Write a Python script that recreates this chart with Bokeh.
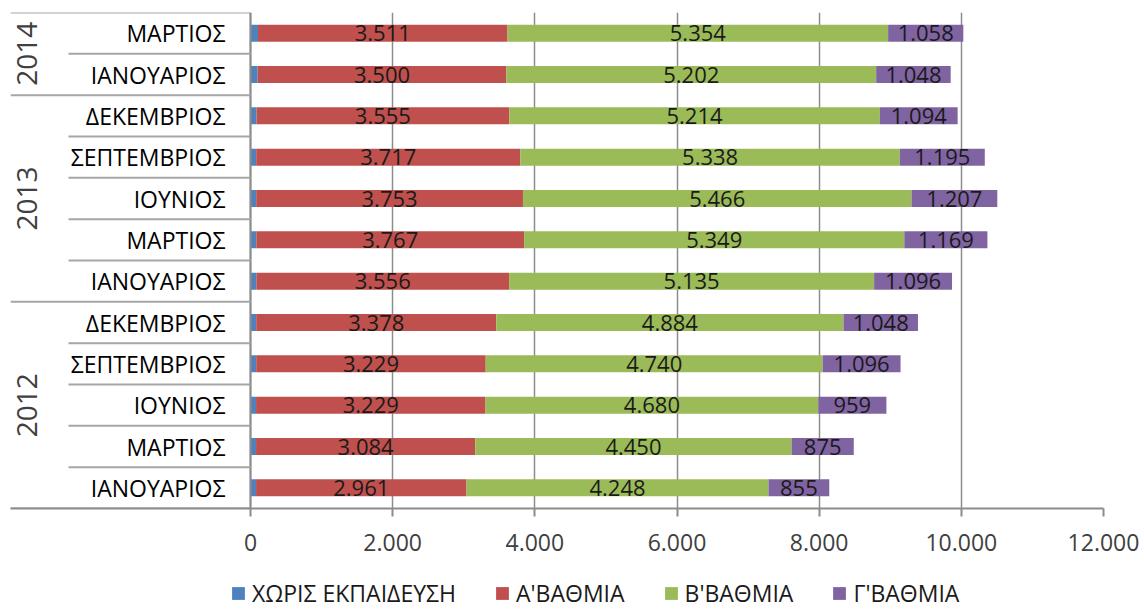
import numpy as np
from bokeh.plotting import figure
from bokeh.layouts import column
from bokeh.models import Range1d, ColumnDataSource, FixedTicker, CustomJSTickFormatter, Legend, LegendItem
from bokeh.core.properties import value
from bokeh.embed import file_html
from bokeh.resources import INLINE

# ---------------- data (bottom row first) ----------------
years = ["2012", "2012", "2012", "2012", "2012",
         "2013", "2013", "2013", "2013", "2013",
         "2014", "2014"]
months = ["ΙΑΝΟΥΑΡΙΟΣ", "ΜΑΡΤΙΟΣ", "ΙΟΥΝΙΟΣ", "ΣΕΠΤΕΜΒΡΙΟΣ", "ΔΕΚΕΜΒΡΙΟΣ",
          "ΙΑΝΟΥΑΡΙΟΣ", "ΜΑΡΤΙΟΣ", "ΙΟΥΝΙΟΣ", "ΣΕΠΤΕΜΒΡΙΟΣ", "ΔΕΚΕΜΒΡΙΟΣ",
          "ΙΑΝΟΥΑΡΙΟΣ", "ΜΑΡΤΙΟΣ"]
no_edu = [78, 78, 78, 80, 80, 82, 82, 80, 80, 85, 100, 105]
a_level = [2961, 3084, 3229, 3229, 3378, 3556, 3767, 3753, 3717, 3555, 3500, 3511]
b_level = [4248, 4450, 4680, 4740, 4884, 5135, 5349, 5466, 5338, 5214, 5202, 5354]
c_level = [855, 875, 959, 1096, 1048, 1096, 1169, 1207, 1195, 1094, 1048, 1058]
series_names = ["ΧΩΡΙΣ ΕΚΠΑΙΔΕΥΣΗ", "Α'ΒΑΘΜΙΑ", "Β'ΒΑΘΜΙΑ", "Γ'ΒΑΘΜΙΑ"]
x_ticks = [0, 2000, 4000, 6000, 8000, 10000, 12000]

# ---------------- style ----------------
colors = ["#4F81BD", "#C0504D", "#9BBB59", "#8064A2"]
FONT = "Open Sans"
GRID = "#8C8C8C"
SEP = "#A6A6A6"
PX = 12000 / 853.0            # data units per screen pixel
x_start = -240 * PX           # left edge of label table
month_col = -182 * PX         # left edge of month column
month_x = -25 * PX            # right edge of month labels
year_x = -224 * PX            # centre of year labels
W = 1144


def fmt(v):
    return "{:,}".format(int(v)).replace(",", ".")


n = len(months)
ys = np.arange(n)
series = [no_edu, a_level, b_level, c_level]

p = figure(width=W, height=564, output_backend="svg", toolbar_location=None,
           x_range=Range1d(x_start, 12000), y_range=Range1d(-0.5, n - 0.5),
           min_border_left=10, min_border_right=41, min_border_top=12, min_border_bottom=56)
p.outline_line_color = None

left = np.zeros(n)
for vals, col in zip(series, colors):
    vals = np.array(vals, dtype=float)
    src = ColumnDataSource(dict(y=ys, left=left.copy(), right=left + vals))
    p.hbar(y="y", left="left", right="right", height=0.41, source=src,
           fill_color=col, line_color=None)
    left = left + vals

# data labels (not for the first, tiny series)
left = np.array(no_edu, dtype=float)
for vals in series[1:]:
    vals = np.array(vals, dtype=float)
    mids = left + vals / 2
    src = ColumnDataSource(dict(x=mids, y=ys, t=[fmt(v) for v in vals]))
    p.text(x="x", y="y", text="t", source=src, text_align="center", text_baseline="middle",
           text_font=value(FONT), text_font_size="22px", text_color="#1A1A1A")
    left = left + vals

# label table: vertical axis line, separators, month + year labels
p.segment(x0=[0], y0=[-0.5], x1=[0], y1=[n - 0.5], line_color=GRID, line_width=2)
sx0, sy, sx1 = [], [], []
for i in range(n + 1):
    yb = i - 0.5
    if i == 0 or i == n or years[i] != years[i - 1]:
        sx0.append(x_start)
    else:
        sx0.append(month_col)
    sy.append(yb)
    sx1.append(0)
p.segment(x0=sx0, y0=sy, x1=sx1, y1=sy, line_color=SEP, line_width=2)

p.text(x=[month_x] * n, y=list(ys), text=months, text_align="right", text_baseline="middle",
       text_font=value(FONT), text_font_size="23px", text_color="#000000")

uniq = []
for y in years:
    if y not in uniq:
        uniq.append(y)
yc = [float(np.mean([i for i in range(n) if years[i] == u])) for u in uniq]
p.text(x=[year_x] * len(uniq), y=yc, text=uniq, angle=np.pi / 2, text_align="center",
       text_baseline="middle", text_font=value(FONT), text_font_size="28px", text_color="#404040")

# axes / grid
p.yaxis.visible = False
p.ygrid.visible = False
p.xgrid.ticker = FixedTicker(ticks=x_ticks)
p.xgrid.grid_line_color = GRID
p.xgrid.grid_line_width = 1.5
xa = p.xaxis[0]
xa.ticker = FixedTicker(ticks=x_ticks)
xa.formatter = CustomJSTickFormatter(code="""
    return Math.round(tick).toString().replace(/\\B(?=(\\d{3})+(?!\\d))/g, ".");
""")
xa.axis_line_color = GRID
xa.axis_line_width = 2
xa.major_tick_line_color = GRID
xa.major_tick_line_width = 2
xa.major_tick_out = 8
xa.major_tick_in = 0
xa.minor_tick_line_color = None
xa.major_label_text_font = FONT
xa.major_label_text_font_size = "23px"
xa.major_label_text_color = "#404040"
xa.major_label_standoff = 17

# ---------------- legend strip ----------------
pl = figure(width=W, height=45, output_backend="svg", toolbar_location=None,
            x_range=Range1d(0, 1), y_range=Range1d(0, 1),
            min_border_left=0, min_border_right=0, min_border_top=0, min_border_bottom=0)
pl.outline_line_color = None
pl.axis.visible = False
pl.grid.visible = False
items = []
for nm, col in zip(series_names, colors):
    # off-range placeholder so the legend has a glyph to draw
    r = pl.rect(x=[-5], y=[-5], width=1, height=1, fill_color=col, line_color=None)
    items.append(LegendItem(label=nm, renderers=[r]))
legend = Legend(items=items, orientation="horizontal", location=(220, 0))
legend.label_text_font = FONT
legend.label_text_font_size = "23px"
legend.label_text_color = "#1A1A1A"
legend.glyph_width = 16
legend.glyph_height = 16
legend.label_standoff = 6
legend.spacing = 38
legend.padding = 0
legend.margin = 0
legend.border_line_color = None
legend.background_fill_alpha = 0
pl.add_layout(legend, "center")

layout = column(p, pl, spacing=0)
open("out.html", "w").write(file_html(layout, INLINE))
